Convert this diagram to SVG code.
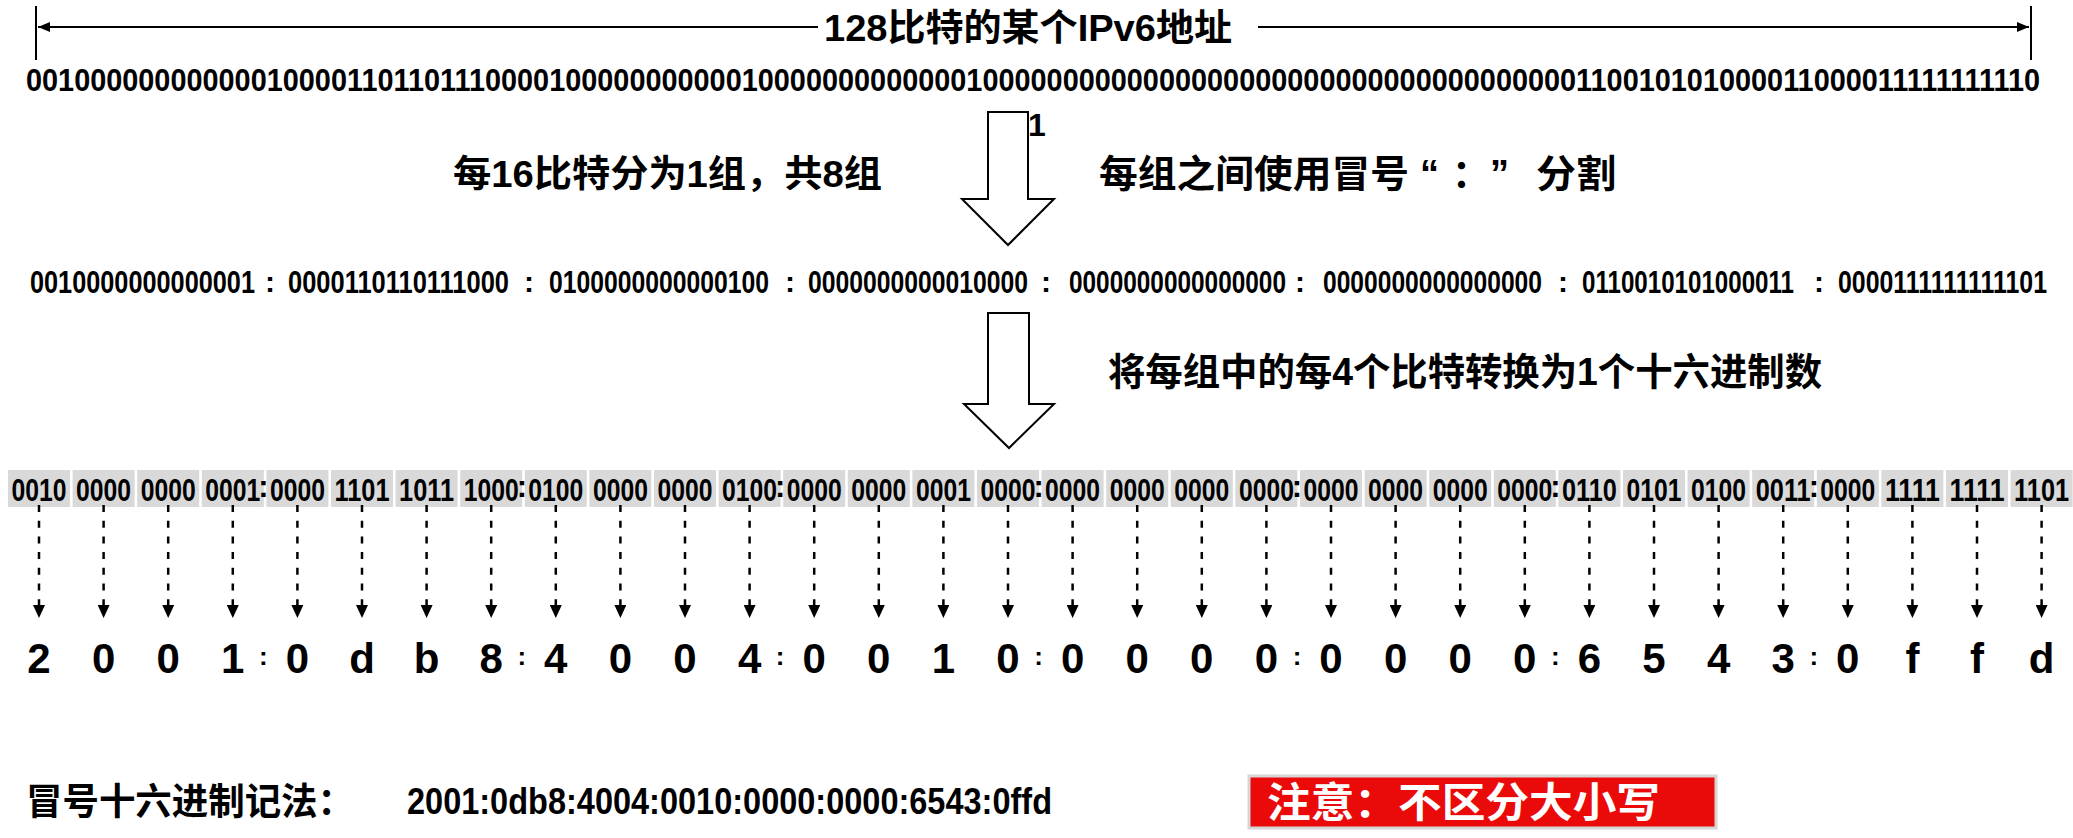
<svg xmlns="http://www.w3.org/2000/svg" width="2073" height="838" viewBox="0 0 2073 838">
<style>
.t{font-family:"Liberation Sans","Noto Sans CJK SC",sans-serif;font-weight:bold;fill:#000}
.bx{fill:#d9d9d9}
.nb{font-family:"Liberation Sans",sans-serif;font-weight:bold;font-size:31px;text-anchor:middle}
.hx{font-family:"Liberation Sans",sans-serif;font-weight:bold;font-size:42px;text-anchor:middle}
.dl{stroke:#000;stroke-width:2.5;stroke-dasharray:7 8.7;fill:none}
.ln{stroke:#000;stroke-width:2;fill:none}
.ha{fill:#fff;stroke:#000;stroke-width:2}
</style>
<defs>
<marker id="ah" markerUnits="userSpaceOnUse" viewBox="0 0 13 12" refX="5" refY="6" markerWidth="13" markerHeight="12" orient="auto"><path d="M0,0 L13,6 L0,12 z" fill="#000"/></marker>
<marker id="sh" markerUnits="userSpaceOnUse" viewBox="0 0 12 10" refX="12" refY="5" markerWidth="12" markerHeight="10" orient="auto"><path d="M0,0 L12,5 L0,10 z" fill="#000"/></marker>
</defs>

<g id="title">
<line class="ln" x1="36" y1="6" x2="36" y2="60"/>
<line class="ln" x1="2031" y1="6" x2="2031" y2="60"/>
<text class="t" x="824" y="41" font-size="37" textLength="408" lengthAdjust="spacingAndGlyphs">128比特的某个IPv6地址</text>
</g>

<g id="binary">
<text class="t" x="26" y="91" font-size="32" textLength="2014" lengthAdjust="spacingAndGlyphs">0010000000000001000011011011100001000000000001000000000000010000000000000000000000000000000000000110010101000011000011111111110</text>
<text class="t" x="1028" y="136" font-size="32">1</text>
</g>

<g id="arrow1"><polygon class="ha" points="988,112 1028,112 1028,199 1054,199 1008,245 962,199 988,199"/></g>
<g id="label1"><text class="t" x="453" y="187" font-size="37" textLength="429" lengthAdjust="spacingAndGlyphs">每16比特分为1组，共8组</text></g>
<g id="label2"><text class="t" y="187" font-size="38"><tspan x="1099" textLength="310" lengthAdjust="spacingAndGlyphs">每组之间使用冒号</tspan><tspan x="1420">“</tspan><tspan x="1452">：</tspan><tspan x="1490">”</tspan><tspan x="1536" textLength="80" lengthAdjust="spacingAndGlyphs">分割</tspan></text></g>

<g id="groups" class="t" font-size="31">
<text x="30" y="293" textLength="225" lengthAdjust="spacingAndGlyphs">0010000000000001</text>
<text x="288" y="293" textLength="221" lengthAdjust="spacingAndGlyphs">0000110110111000</text>
<text x="549" y="293" textLength="220" lengthAdjust="spacingAndGlyphs">0100000000000100</text>
<text x="808" y="293" textLength="220" lengthAdjust="spacingAndGlyphs">0000000000010000</text>
<text x="1069" y="293" textLength="217" lengthAdjust="spacingAndGlyphs">0000000000000000</text>
<text x="1323" y="293" textLength="219" lengthAdjust="spacingAndGlyphs">0000000000000000</text>
<text x="1582" y="293" textLength="212" lengthAdjust="spacingAndGlyphs">0110010101000011</text>
<text x="1838" y="293" textLength="209" lengthAdjust="spacingAndGlyphs">0000111111111101</text>
<g text-anchor="middle" font-size="30">
<text x="270" y="292">:</text><text x="529" y="292">:</text><text x="790" y="292">:</text><text x="1046" y="292">:</text><text x="1300" y="292">:</text><text x="1563" y="292">:</text><text x="1819" y="292">:</text>
</g>
</g>

<g id="arrow2"><polygon class="ha" points="988,313 1029,313 1029,404 1054,404 1009,448 964,404 988,404"/></g>
<g id="label3"><text class="t" x="1108" y="385" font-size="38" textLength="714" lengthAdjust="spacingAndGlyphs">将每组中的每4个比特转换为1个十六进制数</text></g>

<g id="nibbles">
<rect class="bx" x="8" y="470" width="62" height="37"/><rect class="bx" x="72.6" y="470" width="62" height="37"/><rect class="bx" x="137.2" y="470" width="62" height="37"/><rect class="bx" x="201.8" y="470" width="62" height="37"/>
<rect class="bx" x="266.4" y="470" width="62" height="37"/><rect class="bx" x="331" y="470" width="62" height="37"/><rect class="bx" x="395.6" y="470" width="62" height="37"/><rect class="bx" x="460.2" y="470" width="62" height="37"/>
<rect class="bx" x="524.8" y="470" width="62" height="37"/><rect class="bx" x="589.4" y="470" width="62" height="37"/><rect class="bx" x="654" y="470" width="62" height="37"/><rect class="bx" x="718.6" y="470" width="62" height="37"/>
<rect class="bx" x="783.2" y="470" width="62" height="37"/><rect class="bx" x="847.8" y="470" width="62" height="37"/><rect class="bx" x="912.4" y="470" width="62" height="37"/><rect class="bx" x="977" y="470" width="62" height="37"/>
<rect class="bx" x="1041.6" y="470" width="62" height="37"/><rect class="bx" x="1106.2" y="470" width="62" height="37"/><rect class="bx" x="1170.8" y="470" width="62" height="37"/><rect class="bx" x="1235.4" y="470" width="62" height="37"/>
<rect class="bx" x="1300" y="470" width="62" height="37"/><rect class="bx" x="1364.6" y="470" width="62" height="37"/><rect class="bx" x="1429.2" y="470" width="62" height="37"/><rect class="bx" x="1493.8" y="470" width="62" height="37"/>
<rect class="bx" x="1558.4" y="470" width="62" height="37"/><rect class="bx" x="1623" y="470" width="62" height="37"/><rect class="bx" x="1687.6" y="470" width="62" height="37"/><rect class="bx" x="1752.2" y="470" width="62" height="37"/>
<rect class="bx" x="1816.8" y="470" width="62" height="37"/><rect class="bx" x="1881.4" y="470" width="62" height="37"/><rect class="bx" x="1946" y="470" width="62" height="37"/><rect class="bx" x="2010.6" y="470" width="62" height="37"/>
<g class="nb">
<text x="39" y="501" textLength="55" lengthAdjust="spacingAndGlyphs">0010</text><text x="103.6" y="501" textLength="55" lengthAdjust="spacingAndGlyphs">0000</text><text x="168.2" y="501" textLength="55" lengthAdjust="spacingAndGlyphs">0000</text><text x="232.8" y="501" textLength="55" lengthAdjust="spacingAndGlyphs">0001</text>
<text x="297.4" y="501" textLength="55" lengthAdjust="spacingAndGlyphs">0000</text><text x="362" y="501" textLength="55" lengthAdjust="spacingAndGlyphs">1101</text><text x="426.6" y="501" textLength="55" lengthAdjust="spacingAndGlyphs">1011</text><text x="491.2" y="501" textLength="55" lengthAdjust="spacingAndGlyphs">1000</text>
<text x="555.8" y="501" textLength="55" lengthAdjust="spacingAndGlyphs">0100</text><text x="620.4" y="501" textLength="55" lengthAdjust="spacingAndGlyphs">0000</text><text x="685" y="501" textLength="55" lengthAdjust="spacingAndGlyphs">0000</text><text x="749.6" y="501" textLength="55" lengthAdjust="spacingAndGlyphs">0100</text>
<text x="814.2" y="501" textLength="55" lengthAdjust="spacingAndGlyphs">0000</text><text x="878.8" y="501" textLength="55" lengthAdjust="spacingAndGlyphs">0000</text><text x="943.4" y="501" textLength="55" lengthAdjust="spacingAndGlyphs">0001</text><text x="1008" y="501" textLength="55" lengthAdjust="spacingAndGlyphs">0000</text>
<text x="1072.6" y="501" textLength="55" lengthAdjust="spacingAndGlyphs">0000</text><text x="1137.2" y="501" textLength="55" lengthAdjust="spacingAndGlyphs">0000</text><text x="1201.8" y="501" textLength="55" lengthAdjust="spacingAndGlyphs">0000</text><text x="1266.4" y="501" textLength="55" lengthAdjust="spacingAndGlyphs">0000</text>
<text x="1331" y="501" textLength="55" lengthAdjust="spacingAndGlyphs">0000</text><text x="1395.6" y="501" textLength="55" lengthAdjust="spacingAndGlyphs">0000</text><text x="1460.2" y="501" textLength="55" lengthAdjust="spacingAndGlyphs">0000</text><text x="1524.8" y="501" textLength="55" lengthAdjust="spacingAndGlyphs">0000</text>
<text x="1589.4" y="501" textLength="55" lengthAdjust="spacingAndGlyphs">0110</text><text x="1654" y="501" textLength="55" lengthAdjust="spacingAndGlyphs">0101</text><text x="1718.6" y="501" textLength="55" lengthAdjust="spacingAndGlyphs">0100</text><text x="1783.2" y="501" textLength="55" lengthAdjust="spacingAndGlyphs">0011</text>
<text x="1847.8" y="501" textLength="55" lengthAdjust="spacingAndGlyphs">0000</text><text x="1912.4" y="501" textLength="55" lengthAdjust="spacingAndGlyphs">1111</text><text x="1977" y="501" textLength="55" lengthAdjust="spacingAndGlyphs">1111</text><text x="2041.6" y="501" textLength="55" lengthAdjust="spacingAndGlyphs">1101</text>
<text x="263.4" y="497">:</text><text x="521.8" y="497">:</text><text x="780.2" y="497">:</text><text x="1038.6" y="497">:</text><text x="1297" y="497">:</text><text x="1555.4" y="497">:</text><text x="1813.8" y="497">:</text>
</g>
</g>

<g id="hexdigits" class="hx">
<text x="39" y="673">2</text><text x="103.6" y="673">0</text><text x="168.2" y="673">0</text><text x="232.8" y="673">1</text>
<text x="297.4" y="673">0</text><text x="362" y="673">d</text><text x="426.6" y="673">b</text><text x="491.2" y="673">8</text>
<text x="555.8" y="673">4</text><text x="620.4" y="673">0</text><text x="685" y="673">0</text><text x="749.6" y="673">4</text>
<text x="814.2" y="673">0</text><text x="878.8" y="673">0</text><text x="943.4" y="673">1</text><text x="1008" y="673">0</text>
<text x="1072.6" y="673">0</text><text x="1137.2" y="673">0</text><text x="1201.8" y="673">0</text><text x="1266.4" y="673">0</text>
<text x="1331" y="673">0</text><text x="1395.6" y="673">0</text><text x="1460.2" y="673">0</text><text x="1524.8" y="673">0</text>
<text x="1589.4" y="673">6</text><text x="1654" y="673">5</text><text x="1718.6" y="673">4</text><text x="1783.2" y="673">3</text>
<text x="1847.8" y="673">0</text><text x="1912.4" y="673">f</text><text x="1977" y="673">f</text><text x="2041.6" y="673">d</text>
<g font-size="26">
<text x="263.4" y="665">:</text><text x="521.8" y="665">:</text><text x="780.2" y="665">:</text><text x="1038.6" y="665">:</text><text x="1297" y="665">:</text><text x="1555.4" y="665">:</text><text x="1813.8" y="665">:</text>
</g>
</g>

<g id="connectors">
<line class="ln" x1="818" y1="27" x2="38" y2="27" marker-end="url(#sh)"/>
<line class="ln" x1="1258" y1="27" x2="2029" y2="27" marker-end="url(#sh)"/>
<line class="dl" x1="39" y1="505" x2="39" y2="610" marker-end="url(#ah)"/>
<line class="dl" x1="103.6" y1="505" x2="103.6" y2="610" marker-end="url(#ah)"/>
<line class="dl" x1="168.2" y1="505" x2="168.2" y2="610" marker-end="url(#ah)"/>
<line class="dl" x1="232.8" y1="505" x2="232.8" y2="610" marker-end="url(#ah)"/>
<line class="dl" x1="297.4" y1="505" x2="297.4" y2="610" marker-end="url(#ah)"/>
<line class="dl" x1="362" y1="505" x2="362" y2="610" marker-end="url(#ah)"/>
<line class="dl" x1="426.6" y1="505" x2="426.6" y2="610" marker-end="url(#ah)"/>
<line class="dl" x1="491.2" y1="505" x2="491.2" y2="610" marker-end="url(#ah)"/>
<line class="dl" x1="555.8" y1="505" x2="555.8" y2="610" marker-end="url(#ah)"/>
<line class="dl" x1="620.4" y1="505" x2="620.4" y2="610" marker-end="url(#ah)"/>
<line class="dl" x1="685" y1="505" x2="685" y2="610" marker-end="url(#ah)"/>
<line class="dl" x1="749.6" y1="505" x2="749.6" y2="610" marker-end="url(#ah)"/>
<line class="dl" x1="814.2" y1="505" x2="814.2" y2="610" marker-end="url(#ah)"/>
<line class="dl" x1="878.8" y1="505" x2="878.8" y2="610" marker-end="url(#ah)"/>
<line class="dl" x1="943.4" y1="505" x2="943.4" y2="610" marker-end="url(#ah)"/>
<line class="dl" x1="1008" y1="505" x2="1008" y2="610" marker-end="url(#ah)"/>
<line class="dl" x1="1072.6" y1="505" x2="1072.6" y2="610" marker-end="url(#ah)"/>
<line class="dl" x1="1137.2" y1="505" x2="1137.2" y2="610" marker-end="url(#ah)"/>
<line class="dl" x1="1201.8" y1="505" x2="1201.8" y2="610" marker-end="url(#ah)"/>
<line class="dl" x1="1266.4" y1="505" x2="1266.4" y2="610" marker-end="url(#ah)"/>
<line class="dl" x1="1331" y1="505" x2="1331" y2="610" marker-end="url(#ah)"/>
<line class="dl" x1="1395.6" y1="505" x2="1395.6" y2="610" marker-end="url(#ah)"/>
<line class="dl" x1="1460.2" y1="505" x2="1460.2" y2="610" marker-end="url(#ah)"/>
<line class="dl" x1="1524.8" y1="505" x2="1524.8" y2="610" marker-end="url(#ah)"/>
<line class="dl" x1="1589.4" y1="505" x2="1589.4" y2="610" marker-end="url(#ah)"/>
<line class="dl" x1="1654" y1="505" x2="1654" y2="610" marker-end="url(#ah)"/>
<line class="dl" x1="1718.6" y1="505" x2="1718.6" y2="610" marker-end="url(#ah)"/>
<line class="dl" x1="1783.2" y1="505" x2="1783.2" y2="610" marker-end="url(#ah)"/>
<line class="dl" x1="1847.8" y1="505" x2="1847.8" y2="610" marker-end="url(#ah)"/>
<line class="dl" x1="1912.4" y1="505" x2="1912.4" y2="610" marker-end="url(#ah)"/>
<line class="dl" x1="1977" y1="505" x2="1977" y2="610" marker-end="url(#ah)"/>
<line class="dl" x1="2041.6" y1="505" x2="2041.6" y2="610" marker-end="url(#ah)"/>
</g>

<g id="notation">
<text class="t" x="26" y="815" font-size="37" textLength="328" lengthAdjust="spacingAndGlyphs">冒号十六进制记法：</text>
<text class="t" x="407" y="814" font-size="37" textLength="645" lengthAdjust="spacingAndGlyphs">2001:0db8:4004:0010:0000:0000:6543:0ffd</text>
</g>

<g id="note">
<rect x="1249" y="776" width="467" height="52" fill="#eb0a0a" stroke="#d6d6d6" stroke-width="3"/>
<text x="1267" y="817" font-family="Noto Sans CJK SC, sans-serif" font-weight="bold" font-size="41" fill="#fff" textLength="393" lengthAdjust="spacingAndGlyphs">注意：不区分大小写</text>
</g>
</svg>
